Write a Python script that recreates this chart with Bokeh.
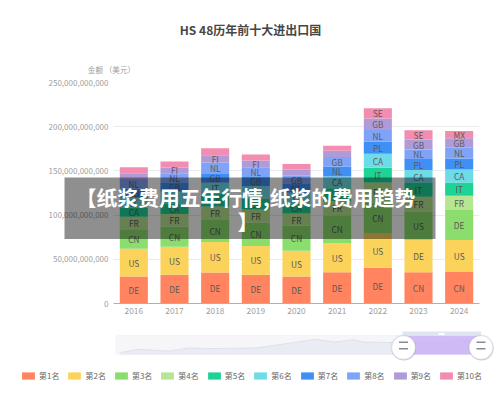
from bokeh.plotting import figure
from bokeh.core.properties import value
from bokeh.models import (BoxAnnotation, ColumnDataSource, FixedTicker, Label, Legend,
                          LegendItem, NumeralTickFormatter, Range1d)
from bokeh.embed import file_html
from bokeh.resources import INLINE

FONT = "Noto Sans CJK SC"

years = ["2016", "2017", "2018", "2019", "2020", "2021", "2022", "2023", "2024"]
y_ticks = [0, 50e9, 100e9, 150e9, 200e9, 250e9]
rank_names = ["第1名", "第2名", "第3名", "第4名", "第5名", "第6名", "第7名", "第8名", "第9名", "第10名"]
rank_colors = ["#FF845F", "#FBD25A", "#8BDD6E", "#B7E591", "#1DD395",
               "#6EDCE8", "#3F8FF5", "#7FA4F7", "#B09BD9", "#F28CB0"]

# values in billions of US dollars, by rank
rank1 = [30.5, 32.4, 35.0, 32.4, 30.5, 35.3, 40.3, 35.3, 36.1]
rank2 = [31.3, 31.9, 34.6, 32.7, 29.3, 33.2, 39.0, 36.6, 35.8]
rank3 = [21.4, 22.6, 24.8, 26.3, 28.2, 31.3, 35.0, 32.3, 33.9]
rank4 = [15.0, 14.3, 15.4, 15.0, 13.9, 15.8, 22.6, 16.6, 16.1]
rank5 = [10.5, 12.0, 14.3, 12.4, 11.3, 14.7, 16.6, 15.5, 15.0]
rank6 = [10.9, 13.2, 12.4, 13.9, 12.1, 13.5, 15.8, 14.7, 14.7]
rank7 = [10.2, 10.7, 10.9, 11.3, 9.8, 11.3, 13.9, 12.4, 12.4]
rank8 = [11.3, 10.2, 12.0, 10.2, 9.4, 10.5, 13.2, 10.8, 12.1]
rank9 = [6.2, 6.5, 8.4, 7.6, 6.8, 7.2, 12.8, 11.3, 10.9]
rank10 = [6.8, 6.8, 7.8, 6.8, 6.4, 5.6, 11.7, 10.6, 8.2]

code1 = ["DE", "DE", "DE", "DE", "DE", "DE", "DE", "CN", "CN"]
code2 = ["US", "US", "US", "US", "US", "US", "US", "DE", "US"]
code3 = ["CN", "CN", "CN", "CN", "CN", "CN", "CN", "US", "DE"]
code4 = ["FR", "FR", "FR", "FR", "FR", "FR", "FR", "FR", "FR"]
code5 = ["CA", "CA", "CA", "CA", "CA", "IT", "IT", "IT", "IT"]
code6 = ["IT", "IT", "IT", "IT", "IT", "CA", "CA", "CA", "CA"]
code7 = ["GB", "GB", "GB", "GB", "NL", "NL", "PL", "PL", "PL"]
code8 = ["NL", "NL", "NL", "NL", "GB", "GB", "NL", "NL", "NL"]
code9 = ["", "FI", "FI", "FI", "", "", "GB", "GB", "GB"]
code10 = ["", "", "", "", "", "", "SE", "SE", "MX"]

# overview line in the zoom slider (relative units)
spark_years = [1987, 1989, 1992, 1994, 1996, 2001, 2007, 2009, 2011, 2012, 2016, 2020, 2022, 2024]
spark_values = [6, 16, 10, 20, 18, 20, 46, 38, 45, 38, 36, 35, 46, 38]

ranks = [rank1, rank2, rank3, rank4, rank5, rank6, rank7, rank8, rank9, rank10]
codes = [code1, code2, code3, code4, code5, code6, code7, code8, code9, code10]
stack_keys = [f"r{i}" for i in range(10)]

data = {"year": years}
for key, vals in zip(stack_keys, ranks):
    data[key] = [v * 1e9 for v in vals]
source = ColumnDataSource(data)

p = figure(width=500, height=416, x_range=years, y_range=Range1d(0, 250e9),
           output_backend="svg", toolbar_location=None,
           min_border_left=113, min_border_right=21, min_border_top=82, min_border_bottom=113)
p.outline_line_color = None
p.background_fill_color = "white"
p.xgrid.grid_line_color = None
p.ygrid.grid_line_color = "#ebebef"
p.ygrid.grid_line_width = 1

p.yaxis.ticker = FixedTicker(ticks=y_ticks)
p.yaxis.formatter = NumeralTickFormatter(format="0,0")
p.yaxis.axis_line_color = None
p.yaxis.major_tick_line_color = None
p.yaxis.minor_tick_line_color = None
p.yaxis.major_tick_out = 0
p.yaxis.major_tick_in = 0
p.yaxis.major_label_text_color = "#a0a0a0"
p.yaxis.major_label_text_font = FONT
p.yaxis.major_label_text_font_size = "8px"
p.yaxis.major_label_standoff = 5

p.xaxis.axis_line_color = "#b0b0b0"
p.xaxis.major_tick_line_color = None
p.xaxis.minor_tick_line_color = None
p.xaxis.major_tick_out = 0
p.xaxis.major_tick_in = 0
p.xaxis.major_label_text_color = "#a0a0a0"
p.xaxis.major_label_text_font = FONT
p.xaxis.major_label_text_font_size = "8.3px"
p.xaxis.major_label_standoff = 3

p.vbar_stack(stack_keys, x="year", width=0.69, color=rank_colors, line_color=None, source=source)

# country codes centred in every segment
tx, ty, tt = [], [], []
base = [0.0] * len(years)
for vals, labels in zip(ranks, codes):
    for i, (v, lab) in enumerate(zip(vals, labels)):
        if lab:
            tx.append(years[i])
            ty.append((base[i] + v / 2) * 1e9)
            tt.append(lab)
        base[i] += v
p.text(x=tx, y=ty, text=tt, text_align="center", text_baseline="middle",
       text_color="#5a5a5a", text_font=value(FONT), text_font_size="8.3px")

# transparent sheet over the whole page: titles, banner, zoom slider and legend
z = figure(width=500, height=416, x_range=Range1d(1974.67, 2026.06), y_range=Range1d(-189.1, 1079.7),
           output_backend="svg", toolbar_location=None, x_axis_location=None, y_axis_location=None,
           min_border_left=0, min_border_right=0, min_border_top=0, min_border_bottom=0,
           styles={"position": "absolute", "top": "0px", "left": "0px"})
z.outline_line_color = None
z.xgrid.visible = False
z.ygrid.visible = False
z.background_fill_alpha = 0
z.border_fill_alpha = 0


def box(l, r, t, b, **kw):
    """Chrome of the page, given in page pixels."""
    z.add_layout(BoxAnnotation(left=l, right=r, top=t, bottom=b,
                               left_units="canvas", right_units="canvas",
                               top_units="canvas", bottom_units="canvas", **kw))


def text(x, y, s, size, color, bold=False):
    z.add_layout(Label(x=x, y=y, x_units="canvas", y_units="canvas", text=s, text_font=FONT,
                       text_font_size=size, text_font_style="bold" if bold else "normal",
                       text_color=color, text_align="center", text_baseline="middle"))


text(250, 29, "HS 48历年前十大进出口国", "12px", "#464646", bold=True)
text(111, 69, "金额 （美元）", "7.6px", "#a0a0a0")

box(64, 435, 177, 238.5, fill_color="#000000", fill_alpha=0.44, line_color=None)
text(245, 196.5, "【纸浆费用五年行情,纸浆的费用趋势", "20.8px", "#ffffff", bold=True)
text(247.5, 220, "】", "20.8px", "#ffffff", bold=True)

box(115.5, 481, 335, 354, level="underlay", fill_color="#f6f6f9", fill_alpha=1,
    line_color="#e6e6ec", line_width=1, border_radius=2)
z.varea(x=spark_years, y1=[0] * len(spark_values), y2=spark_values, fill_color="#e9ecf3", fill_alpha=1)
z.line(x=spark_years, y=spark_values, line_color="#dfe2ec", line_width=1)

box(402, 480.5, 335, 354, fill_color="#c9aef6", fill_alpha=0.82, line_color=None)
box(402, 480.5, 331, 335, fill_color="#dfe6f3", fill_alpha=1, line_color=None)
box(438, 444, 332.5, 334.5, fill_color="#ffffff", fill_alpha=1, line_color=None)
for cx in (403, 480.5):
    box(cx - 11.5, cx + 12.5, 336, 360, fill_color="#8f8f9f", fill_alpha=0.35, line_color=None, border_radius=12)
    box(cx - 12, cx + 12, 335, 359, fill_color="#ffffff", fill_alpha=1,
        line_color="#a6a6b2", line_width=1.5, border_radius=12)
    box(cx - 4.5, cx + 4.5, 341, 342.6, fill_color="#8a8a99", fill_alpha=1, line_color=None)
    box(cx - 4.5, cx + 4.5, 347.5, 349.1, fill_color="#8a8a99", fill_alpha=1, line_color=None)

items = []
for name, color in zip(rank_names, rank_colors):
    # a bar of no size, so that the legend has a glyph to show
    r = z.vbar(x=[2000], top=[0], bottom=[0], width=0, fill_color=color, line_color=None)
    items.append(LegendItem(label=name, renderers=[r]))
legend = Legend(items=items, orientation="horizontal", location=(20, 35), padding=0, margin=0,
                spacing=7, glyph_width=16, glyph_height=9, label_standoff=3, label_height=9,
                label_text_font=FONT, label_text_font_size="8px", label_text_color="#666666",
                background_fill_alpha=0, border_line_color=None)
z.add_layout(legend)

open("out.html", "w").write(file_html([p, z], INLINE))
